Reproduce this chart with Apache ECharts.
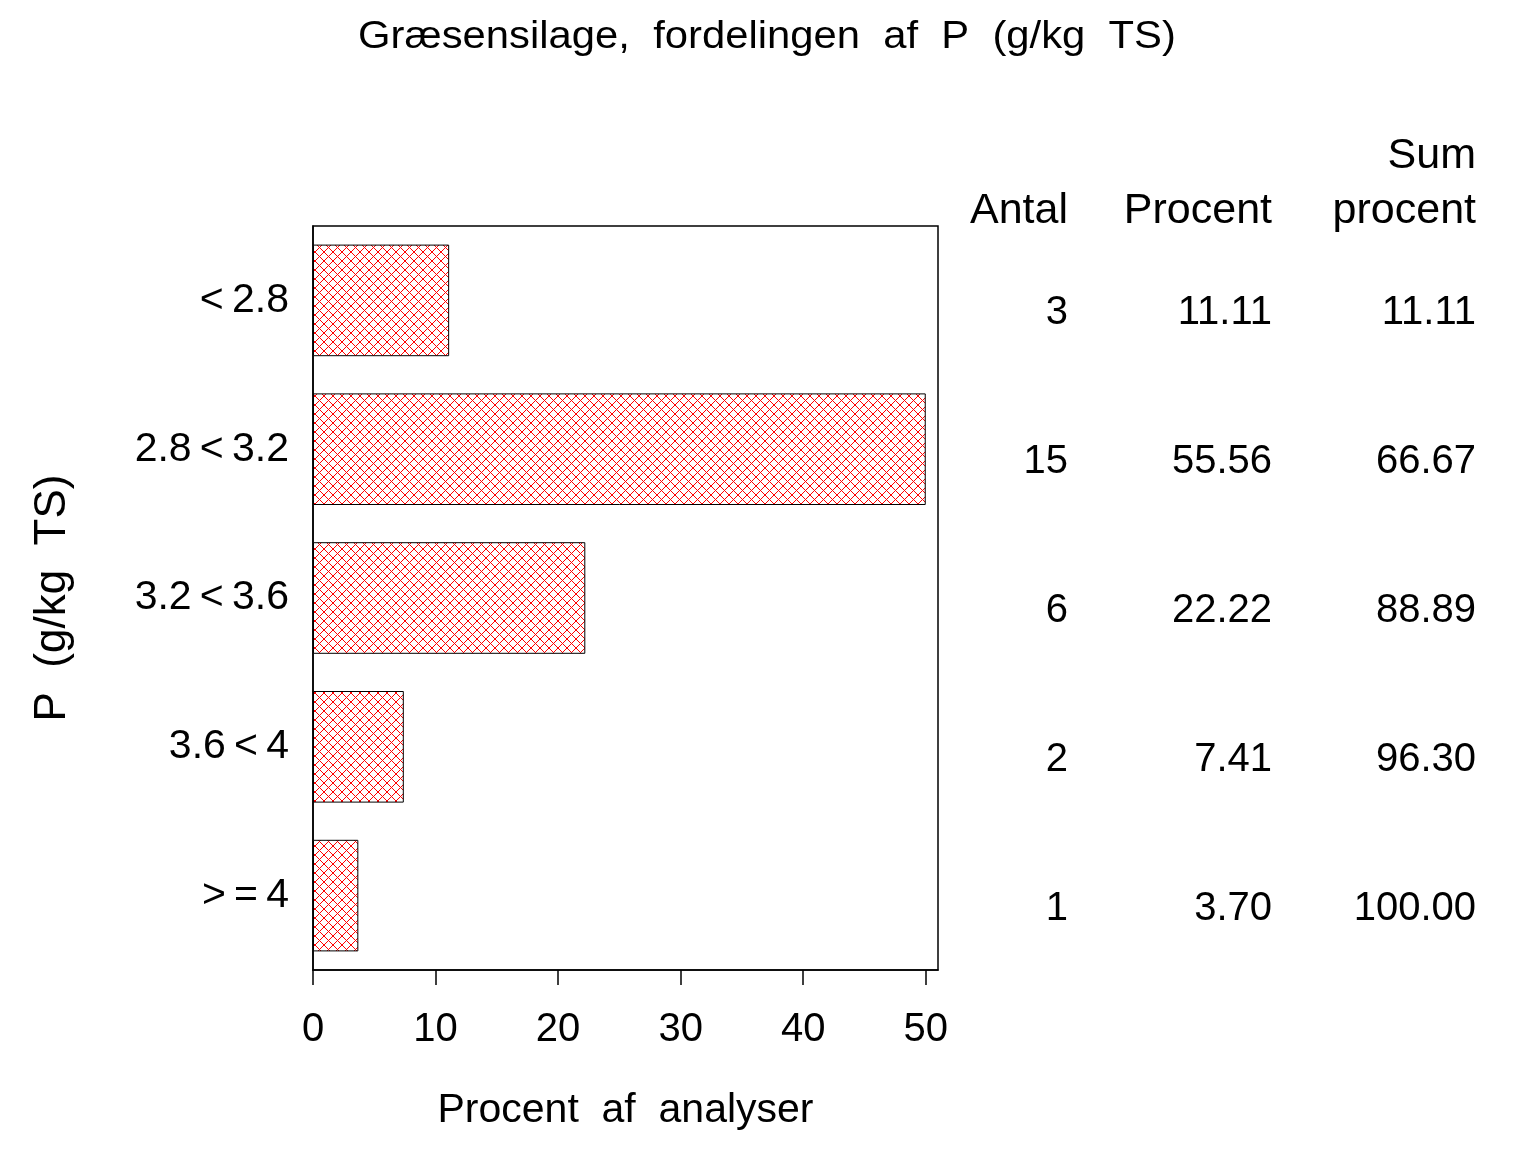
<!DOCTYPE html>
<html>
<head>
<meta charset="utf-8">
<title>Græsensilage, fordelingen af P</title>
<script src="https://cdn.jsdelivr.net/npm/echarts@6/dist/echarts.min.js"></script>
<style>
  html, body { margin: 0; padding: 0; background: #fff; }
  #chart { width: 1536px; height: 1152px; }
</style>
</head>
<body>
<div id="chart"></div>
<script>
// klasser for P (g/kg TS)
const categories = ['<2.8', '2.8<3.2', '3.2<3.6', '3.6<4', '>=4'];
const antal = [3, 15, 6, 2, 1];
const procent = [11.11, 55.56, 22.22, 7.41, 3.70];
const sumProcent = [11.11, 66.67, 88.89, 96.30, 100.00];
const xTicks = [0, 10, 20, 30, 40, 50];

// the original plot cuts the bars off at the last tick (50)
const axisCut = 50;

const fontFam = '"Liberation Sans", Arial, sans-serif';

function makeHatch() {
    // red diagonal cross hatch, 9px repeat
    const size = 9;
    const c = document.createElement('canvas');
    c.width = size;
    c.height = size;
    const ctx = c.getContext('2d');
    ctx.fillStyle = '#fff';
    ctx.fillRect(0, 0, size, size);
    ctx.fillStyle = '#ff0000';
    for (let i = 0; i < size; i++) {
        ctx.fillRect(i, i, 1, 1);
        ctx.fillRect(i, size - 1 - i, 1, 1);
    }
    return c;
}

function tableAxis(values, margin) {
    return {
        type: 'category',
        inverse: true,
        position: 'right',
        data: categories,
        axisLine: { show: false },
        axisTick: { show: false },
        splitLine: { show: false },
        axisLabel: {
            align: 'right',
            margin: margin,
            fontSize: 40,
            lineHeight: 26,
            fontFamily: fontFam,
            color: '#000',
            // empty first line pushes the number a bit under the bar centre
            formatter: function (v, i) {
                return '\n' + values[i];
            }
        }
    };
}

function headerText(text, x, y) {
    return {
        type: 'text',
        x: x,
        y: y,
        style: {
            text: text,
            align: 'right',
            verticalAlign: 'middle',
            font: '43px ' + fontFam,
            fill: '#000'
        }
    };
}

window.onload = function () {
    const chart = echarts.init(document.getElementById('chart'));

    const option = {
        backgroundColor: '#fff',
        animation: false,
        grid: {
            left: 313,
            top: 226,
            right: 598,
            bottom: 182,
            show: true,
            borderColor: '#000',
            borderWidth: 1.5,
            backgroundColor: 'transparent'
        },
        graphic: [
            {
                type: 'text',
                x: 767,
                y: 38,
                scaleX: 1.1,
                style: {
                    text: 'Græsensilage,  fordelingen  af  P  (g/kg  TS)',
                    align: 'center',
                    verticalAlign: 'middle',
                    font: '38px ' + fontFam,
                    fill: '#000'
                }
            },
            headerText('Antal', 1068, 211),
            headerText('Procent', 1272, 211),
            headerText('Sum', 1476, 156),
            headerText('procent', 1476, 211)
        ],
        xAxis: {
            type: 'value',
            min: 0,
            max: 51,
            splitLine: { show: false },
            axisLine: { show: true, onZero: false, lineStyle: { color: '#000', width: 1.5 } },
            axisTick: {
                show: true,
                length: 15,
                customValues: xTicks,
                lineStyle: { color: '#000', width: 1.5 }
            },
            axisLabel: {
                customValues: xTicks,
                margin: 40,
                fontSize: 40,
                fontFamily: fontFam,
                color: '#000'
            },
            name: 'Procent  af  analyser',
            nameLocation: 'middle',
            nameGap: 120,
            nameTextStyle: { fontSize: 41, fontFamily: fontFam, color: '#000' }
        },
        yAxis: [
            {
                type: 'category',
                inverse: true,
                data: categories,
                axisLine: { show: true, lineStyle: { color: '#000', width: 1.5 } },
                axisTick: { show: false },
                splitLine: { show: false },
                axisLabel: {
                    margin: 24,
                    fontSize: 41,
                    fontFamily: fontFam,
                    color: '#000',
                    padding: [10, 0, 0, 0],
                    formatter: function (v) {
                        return v.replace('>=', '>\u2009=\u2009')
                            .replace('<', '\u2009<\u2009')
                            .trim();
                    }
                },
                name: 'P  (g/kg  TS)',
                nameLocation: 'middle',
                nameGap: 238,
                nameTextStyle: { fontSize: 44, fontFamily: fontFam, color: '#000' }
            },
            tableAxis(antal.map(String), 130),
            tableAxis(procent.map(v => v.toFixed(2)), 334),
            tableAxis(sumProcent.map(v => v.toFixed(2)), 538)
        ],
        series: [
            {
                type: 'bar',
                yAxisIndex: 0,
                barCategoryGap: '25%',
                data: procent.map(v => Math.min(v, axisCut)),
                itemStyle: {
                    color: { image: makeHatch(), repeat: 'repeat' },
                    borderColor: '#000',
                    borderWidth: 1
                }
            }
        ]
    };

    chart.setOption(option);

    window.addEventListener('resize', function () {
        chart.resize();
    });
};
</script>
</body>
</html>
